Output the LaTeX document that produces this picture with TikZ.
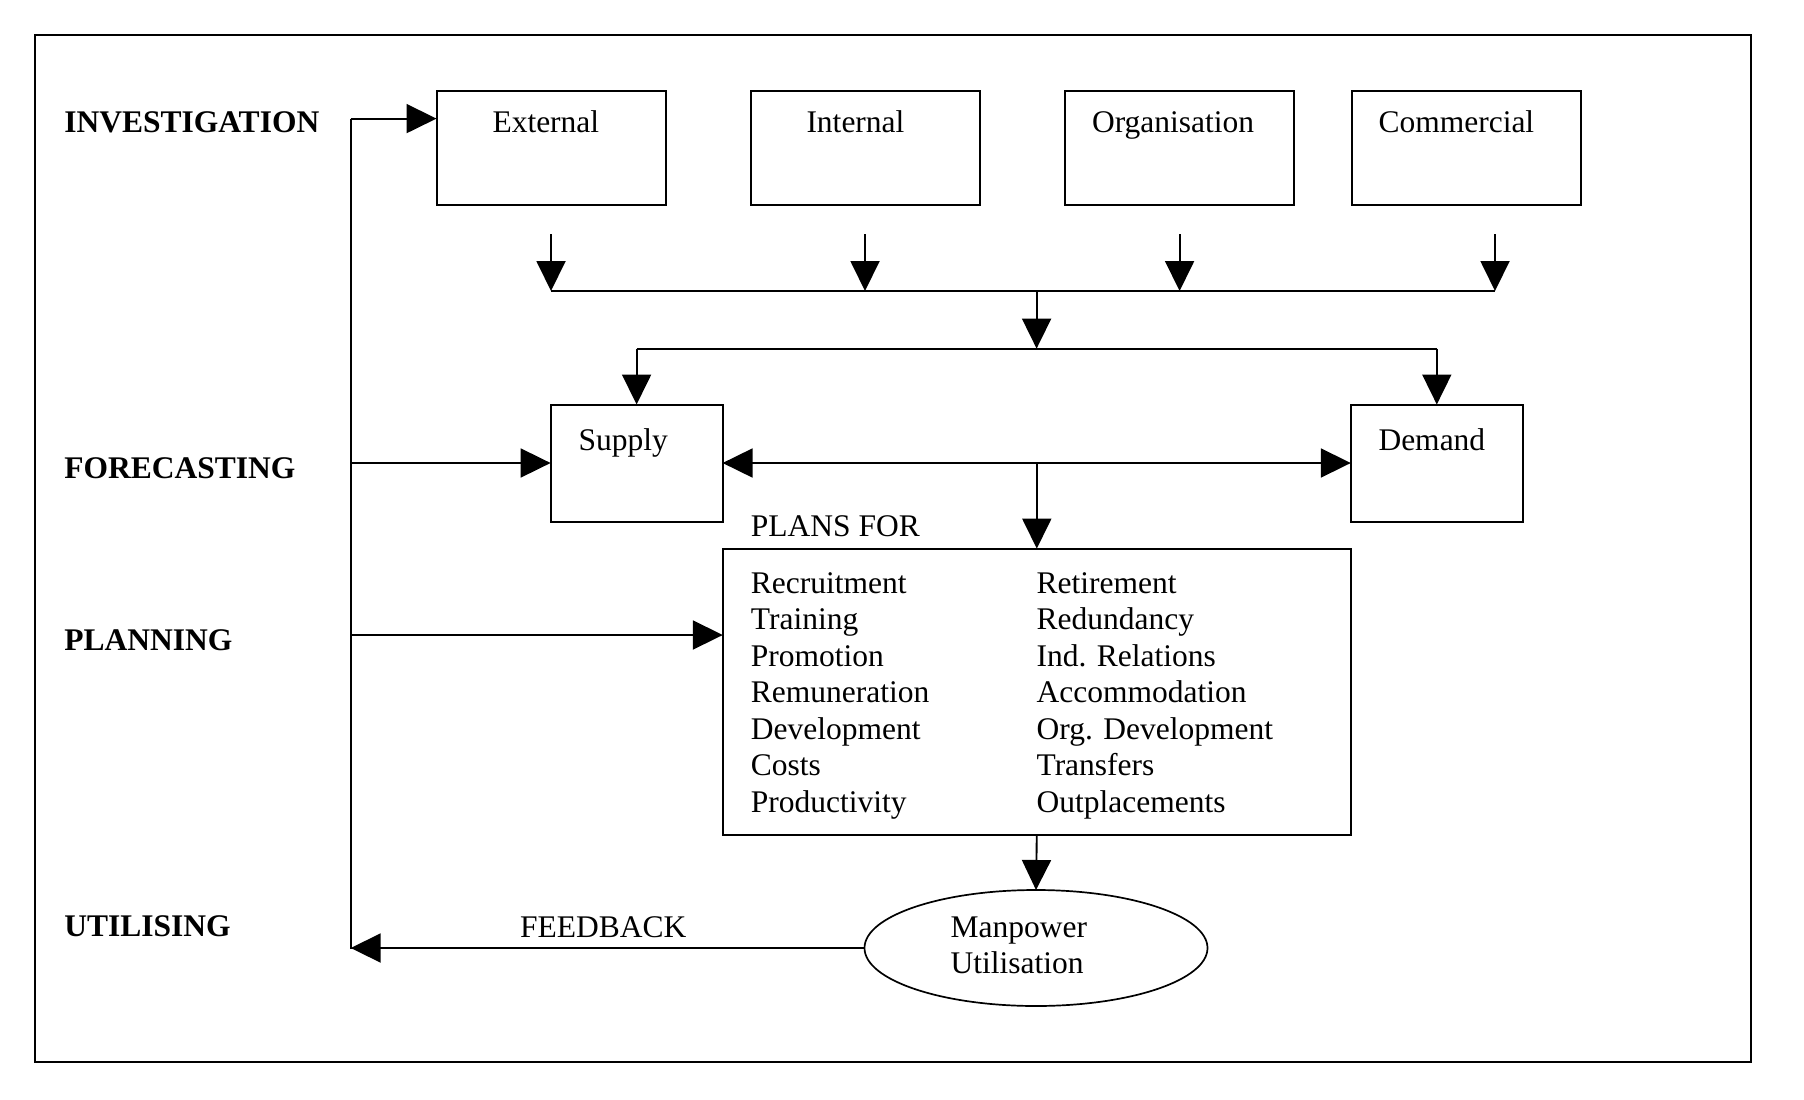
\documentclass[tikz,border=0pt]{standalone}
\usepackage{fontspec}
\setmainfont{Liberation Serif}
\usetikzlibrary{arrows.meta,shapes.geometric}
\begin{document}
\begin{tikzpicture}[x=1pt,y=-1pt,
  every node/.style={inner sep=0pt,outer sep=0pt},
  txt/.style={anchor=base west,font=\fontsize{31.5}{36.5}\selectfont},
  lbl/.style={anchor=base west,font=\fontsize{31.5}{36.5}\selectfont\bfseries},
  box/.style={draw,line width=2pt,rectangle},
  topbox/.style={box,minimum width=229pt,minimum height=114pt},
  fcbox/.style={box,minimum width=172pt,minimum height=117pt},
  conn/.style={line width=1.9pt},
  arr/.style={conn,-{Triangle[length=30pt,width=29pt]}},
  darr/.style={conn,{Triangle[length=30pt,width=29pt]}-{Triangle[length=30pt,width=29pt]}}]
\useasboundingbox (0,0) rectangle (1804,1100);
% outer frame
\draw[line width=2pt] (34.5,34.5) rectangle (1751,1062);

% stage labels
\node[lbl] (linv) at (64.3,132.5) {INVESTIGATION};
\node[lbl] (lfor) at (64.3,478) {FORECASTING};
\node[lbl] (lpla) at (64.3,650) {PLANNING};
\node[lbl] (luti) at (64.3,936.5) {UTILISING};

% top boxes
\node[topbox] (ext) at (551,148) {};
\node[topbox] (int) at (865,148) {};
\node[topbox] (org) at (1179.6,148) {};
\node[topbox] (com) at (1466,148) {};
\node[txt] (text) at (492.5,132.5) {External};
\node[txt] (tint) at (806.5,132.5) {Internal};
\node[txt] (torg) at (1092,132.5) {Organisation};
\node[txt] (tcom) at (1378.5,132.5) {Commercial};

% forecasting boxes
\node[fcbox] (sup) at (636.6,463) {};
\node[fcbox] (dem) at (1436.8,463) {};
\node[txt] (tsup) at (578.6,450.5) {Supply};
\node[txt] (tdem) at (1378.5,450.5) {Demand};

% plans box
\node[txt] (tplf) at (750.9,536) {PLANS FOR};
\node[box,minimum width=628pt,minimum height=286.4pt] (plans) at (1036.8,691.8) {};
\node[txt,align=left,anchor=north west] (pl1) at (750.9,572.5) {Recruitment\\Training\\Promotion\\Remuneration\\Development\\Costs\\Productivity};
\node[txt,align=left,anchor=north west] (pl2) at (1036.6,572.5) {Retirement\\Redundancy\\Ind. Relations\\Accommodation\\Org. Development\\Transfers\\Outplacements};

% utilisation ellipse
\node[draw,line width=1.7pt,ellipse,minimum width=343pt,minimum height=116pt] (manp) at (1036,948) {};
\node[txt] (tman) at (950.7,937) {Manpower};
\node[txt] (tuti) at (950.7,973.5) {Utilisation};
\node[txt] (tfb) at (520,937) {FEEDBACK};

% coordinates
\coordinate (bartop) at (350.7,118.6);
\coordinate (barbot) at (350.7,949);
\coordinate (planY) at (350.7,635);
\coordinate (e1) at (551,234);
\coordinate (i1) at (865,234);
\coordinate (o1) at (1179.6,234);
\coordinate (c1) at (1495,234);
\coordinate (busL) at (551,291);
\coordinate (busR) at (1495,291);
\coordinate (mid) at (1036.6,291);
\coordinate (bus2) at (1036.6,348.6);

% connectors
\draw[conn] (bartop) -- (barbot);
\draw[arr] (bartop) -- (bartop -| ext.west);
\draw[arr] (bartop |- sup.west) -- (sup.west);
\draw[arr] (planY) -- (planY -| plans.west);
\draw[arr] (manp.west) -- (manp.west -| barbot);

\draw[arr] (e1) -- (e1 |- busL);
\draw[arr] (i1) -- (i1 |- busL);
\draw[arr] (o1) -- (o1 |- busL);
\draw[arr] (c1) -- (c1 |- busL);
\draw[conn] (busL) -- (busR);
\draw[arr] (mid) -- (bus2);
\draw[conn] (sup.north |- bus2) -- (dem.north |- bus2);
\draw[arr] (sup.north |- bus2) -- (sup.north);
\draw[arr] (dem.north |- bus2) -- (dem.north);

\draw[darr] (sup.east) -- (dem.west);
\draw[arr] (plans.north |- sup.east) -- (plans.north);
\draw[arr] (plans.south) -- (manp.north);
\end{tikzpicture}
\end{document}
